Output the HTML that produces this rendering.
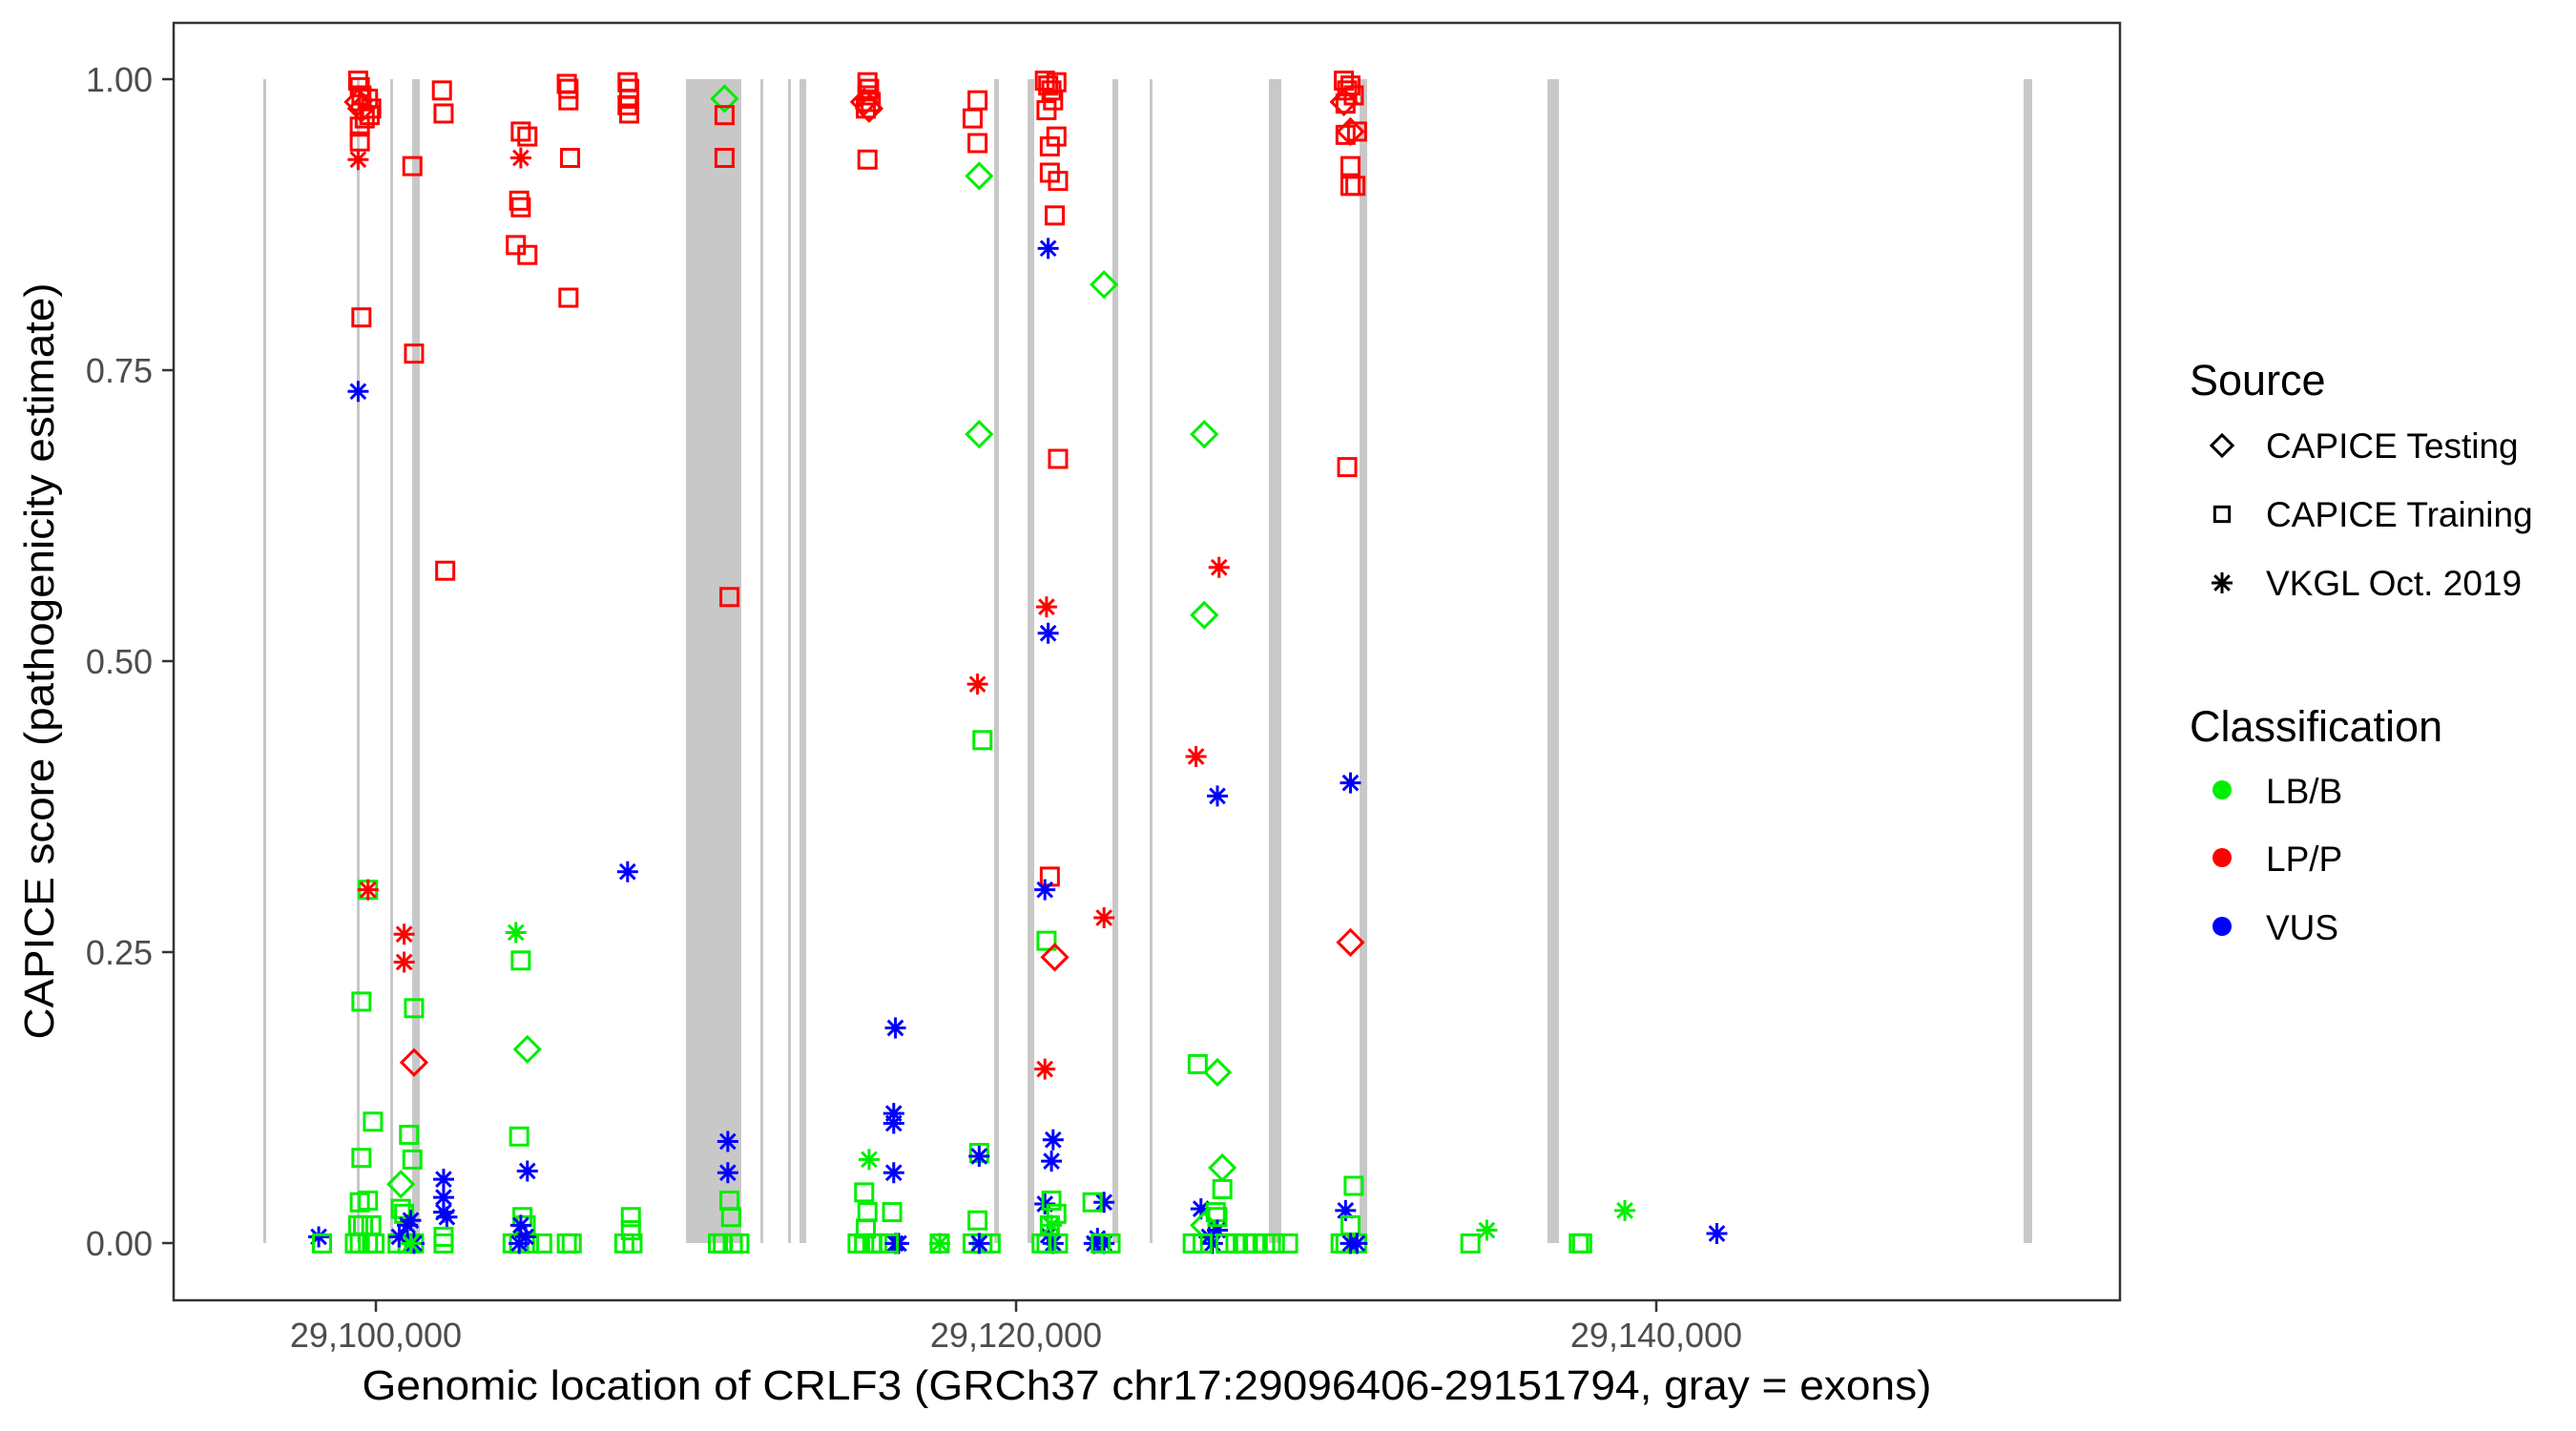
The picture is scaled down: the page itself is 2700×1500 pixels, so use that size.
<!DOCTYPE html>
<html><head><meta charset="utf-8"><style>
html,body{margin:0;padding:0;background:#fff;}
svg{display:block;font-family:"Liberation Sans",sans-serif;}
</style></head><body>
<svg id="s" width="2700" height="1500" xmlns="http://www.w3.org/2000/svg">
<rect width="2700" height="1500" fill="#fff"/>
<g id="ex" fill="#c8c8c8"></g>
<g id="pts" fill="none" stroke-width="3"></g>
<rect x="182" y="24" width="2040" height="1339" fill="none" stroke="#333" stroke-width="2.5"/>
<g stroke="#333" stroke-width="2.5">
<line x1="170" y1="83" x2="182" y2="83"/><line x1="170" y1="388" x2="182" y2="388"/>
<line x1="170" y1="693" x2="182" y2="693"/><line x1="170" y1="998" x2="182" y2="998"/>
<line x1="170" y1="1303" x2="182" y2="1303"/>
<line x1="394" y1="1363" x2="394" y2="1375"/><line x1="1065" y1="1363" x2="1065" y2="1375"/><line x1="1736" y1="1363" x2="1736" y2="1375"/>
</g>
<g fill="#4d4d4d" font-size="36" text-anchor="end">
<text x="160" y="96">1.00</text><text x="160" y="401">0.75</text><text x="160" y="706">0.50</text>
<text x="160" y="1011">0.25</text><text x="160" y="1316">0.00</text>
</g>
<g fill="#4d4d4d" font-size="36" text-anchor="middle">
<text x="394" y="1412">29,100,000</text><text x="1065" y="1412">29,120,000</text><text x="1736" y="1412">29,140,000</text>
</g>
<text x="1202" y="1467" font-size="44" text-anchor="middle" textLength="1645" lengthAdjust="spacingAndGlyphs">Genomic location of CRLF3 (GRCh37 chr17:29096406-29151794, gray = exons)</text>
<text transform="translate(56,693) rotate(-90)" font-size="44" text-anchor="middle" textLength="793" lengthAdjust="spacingAndGlyphs">CAPICE score (pathogenicity estimate)</text>
<text x="2295" y="414" font-size="45">Source</text>
<g font-size="37">
<text x="2375" y="480">CAPICE Testing</text>
<text x="2375" y="552">CAPICE Training</text>
<text x="2375" y="624">VKGL Oct. 2019</text>
</g>
<text x="2295" y="777" font-size="45">Classification</text>
<g font-size="37">
<text x="2375" y="842">LB/B</text>
<text x="2375" y="913">LP/P</text>
<text x="2375" y="985">VUS</text>
</g>
<g id="leg" fill="none" stroke="#000" stroke-width="3"></g>
<circle cx="2329" cy="828" r="10" fill="#00ee00"/>
<circle cx="2329" cy="899" r="10" fill="#ff0000"/>
<circle cx="2329" cy="971" r="10" fill="#0000ff"/>
</svg>
<script>
var NS="http://www.w3.org/2000/svg";
var ex=[[276,3],[374,3],[409,3],[432,8],[719,58],[797,3],[826,3],[838,7],[1042,5],[1077,7],[1166,6],[1205,3],[1330,13],[1425,8],[1622,12],[2121,9]];
var eg=document.getElementById('ex');
ex.forEach(function(e){var r=document.createElementNS(NS,'rect');r.setAttribute('x',e[0]);r.setAttribute('y',83);r.setAttribute('width',e[1]);r.setAttribute('height',1220);eg.appendChild(r);});
var C={r:'#ff0000',g:'#00ee00',b:'#0000ff'};
function shape(g,t,x,y,col,k){
 var el;
 if(t=='s'){el=document.createElementNS(NS,'rect');el.setAttribute('x',x-9*k);el.setAttribute('y',y-9*k);el.setAttribute('width',18*k);el.setAttribute('height',18*k);}
 else if(t=='d'){el=document.createElementNS(NS,'polygon');var h=13*k;el.setAttribute('points',x+','+(y-h)+' '+(x+h)+','+y+' '+x+','+(y+h)+' '+(x-h)+','+y);}
 else {el=document.createElementNS(NS,'path');var r=11*k,d=7.8*k;el.setAttribute('d','M'+x+' '+(y-r)+'V'+(y+r)+'M'+(x-r)+' '+y+'H'+(x+r)+'M'+(x-d)+' '+(y-d)+'L'+(x+d)+' '+(y+d)+'M'+(x-d)+' '+(y+d)+'L'+(x+d)+' '+(y-d));}
 el.setAttribute('stroke',col);g.appendChild(el);
}
var P="218,49,s,r;219,53,s,r;220,58,s,r;224,60,s,r;226,66,s,r;222,72,s,r;219,77,s,r;225,70,s,r;219,86,s,r;220,193,s,r;218,62,d,r;220,66,d,r;218,97,a,r;218,238,a,b;224,541,s,g;224,541,a,r;220,609,s,g;227,682,s,g;220,704,s,g;219,731,s,g;224,730,s,g;218,745,s,g;221,745,s,g;226,745,s,g;219,756,s,g;224,756,s,g;228,756,s,g;216,756,s,g;194,752,a,b;196,756,s,g;"+
"251,101,s,r;252,215,s,r;271,347,s,r;269,55,s,r;270,69,s,r;246,568,a,r;246,585,a,r;252,646,d,r;252,613,s,g;249,690,s,g;251,705,s,g;244,720,d,g;244,735,s,g;246,738,s,g;248,756,s,g;252,756,s,g;242,756,s,g;248,745,a,b;250,742,a,b;243,752,a,b;252,756,a,b;250,756,a,g;270,717,a,b;270,728,a,b;270,737,a,b;272,740,a,b;270,752,s,g;270,756,s,g;"+
"317,80,s,r;321,83,s,r;316,122,s,r;317,126,s,r;314,149,s,r;321,155,s,r;346,181,s,r;317,96,a,r;314,567,a,g;317,584,s,g;321,638,d,g;316,691,s,g;321,712,a,b;318,740,s,g;320,745,s,g;316,756,s,g;322,756,s,g;312,756,s,g;330,756,s,g;317,745,a,b;320,752,a,b;316,756,a,b;"+
"345,51,s,r;346,54,s,r;346,61,s,r;347,96,s,r;345,756,s,g;348,756,s,g;382,50,s,r;383,54,s,r;383,60,s,r;382,64,s,r;383,69,s,r;382,530,a,b;384,740,s,g;384,748,s,g;380,756,s,g;385,756,s,g;"+
"441,60,d,g;441,70,s,r;441,96,s,r;444,363,s,r;443,694,a,b;443,713,a,b;444,730,s,g;445,740,s,g;440,756,s,g;446,756,s,g;450,756,s,g;437,756,s,g;"+
"528,50,s,r;529,54,s,r;528,58,s,r;530,62,s,r;527,66,s,r;528,97,s,r;526,62,d,r;529,66,d,r;529,705,a,g;526,725,s,g;528,737,s,g;527,747,s,g;522,756,s,g;531,756,s,g;526,756,s,g;534,756,s,g;545,625,a,b;544,677,a,b;544,683,a,b;544,713,a,b;543,737,s,g;545,756,a,b;547,756,a,b;541,756,s,g;572,756,a,g;572,756,s,g;"+
"592,72,s,r;595,61,s,r;595,87,s,r;596,107,d,g;596,264,d,g;595,416,a,r;598,450,s,g;596,701,s,g;596,703,a,b;595,742,s,g;592,756,s,g;598,756,s,g;603,756,s,g;596,756,a,b;"+
"636,49,s,r;638,52,s,r;640,55,s,r;643,50,s,r;641,61,s,r;637,67,s,r;643,83,s,r;639,89,s,r;639,105,s,r;644,110,s,r;642,131,s,r;644,279,s,r;639,533,s,r;638,151,a,b;637,369,a,r;638,385,a,b;636,541,a,b;637,572,s,g;642,582,d,r;636,650,a,r;641,693,a,b;640,706,a,b;636,732,a,b;638,751,a,b;641,756,a,b;640,730,s,g;643,738,s,g;639,745,s,g;637,756,s,g;644,756,s,g;634,756,s,g;640,745,a,g;"+
"672,173,d,g;672,558,a,r;672,731,a,b;665,731,s,g;668,753,a,b;672,756,a,b;666,756,a,b;670,756,s,g;676,756,s,g;"+
"733,264,d,g;733,374,d,g;742,345,a,r;728,460,a,r;741,484,a,b;729,647,s,g;741,652,d,g;744,710,d,g;744,723,s,g;731,735,a,b;740,737,s,g;733,745,d,g;741,748,a,b;736,752,a,b;738,756,a,b;726,756,s,g;746,756,s,g;752,756,s,g;758,756,s,g;764,756,s,g;770,756,s,g;776,756,s,g;784,756,s,g;732,756,s,g;741,740,s,g;"+
"818,49,s,r;822,52,s,r;820,55,s,r;824,58,s,r;819,63,s,r;819,82,s,r;826,80,s,r;822,101,s,r;822,113,s,r;825,113,s,r;820,284,s,r;818,62,d,r;822,80,d,r;822,573,d,r;822,476,a,b;824,721,s,g;819,736,a,b;822,745,s,g;819,756,s,g;826,756,s,g;816,756,s,g;822,756,a,b;826,756,a,b;"+
"895,756,s,g;905,748,a,g;989,736,a,g;961,756,s,g;963,756,s,g;1045,750,a,b";
var g=document.getElementById('pts');
P.split(';').forEach(function(p){var a=p.split(',');if(a.length<4)return;var x=(+a[0])*1.722,y=(+a[1])*1.724;shape(g,a[2],x,y,C[a[3]],1);});
var lg=document.getElementById('leg');
shape(lg,'d',2329,467,'#000',0.85);shape(lg,'s',2329,539,'#000',0.85);shape(lg,'a',2329,611,'#000',1);
</script>
</body></html>
